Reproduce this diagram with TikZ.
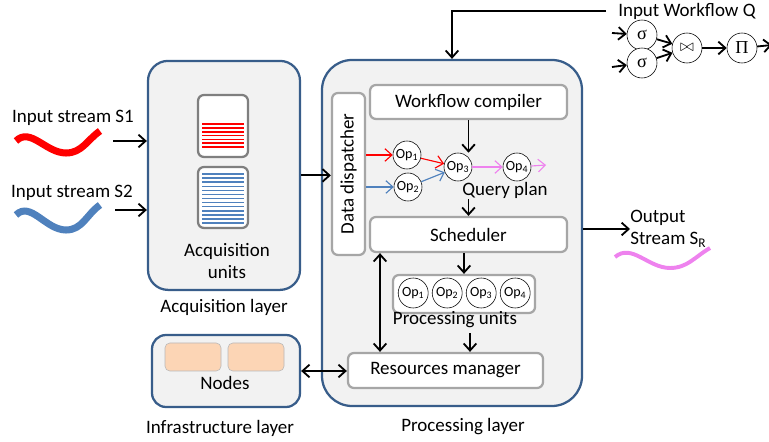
\documentclass[tikz,border=0pt]{standalone}
\usepackage{fontspec}
\setmainfont{Carlito}
\newfontfamily\symfont{Liberation Serif}
\usetikzlibrary{arrows.meta}
\definecolor{layerblue}{RGB}{56,93,138}
\definecolor{layerfill}{RGB}{242,242,242}
\definecolor{boxgray}{RGB}{166,166,166}
\definecolor{bufgray}{RGB}{127,127,127}
\definecolor{streamred}{RGB}{255,0,0}
\definecolor{streamblue}{RGB}{79,129,189}
\definecolor{streampink}{RGB}{238,130,238}
\definecolor{nodepeach}{RGB}{252,213,181}

\begin{document}
\begin{tikzpicture}[
    font=\fontsize{13.5}{15.5}\selectfont,
    layer/.style={draw=layerblue, fill=layerfill, line width=1.6pt},
    unit/.style={draw=boxgray, fill=white, line width=1.6pt, rounded corners=0.15cm},
    opnode/.style={circle, draw, thin, fill=white, inner sep=0pt, minimum size=0.7cm, font=\fontsize{10}{11}\selectfont},
    relnode/.style={circle, draw, thin, fill=white, inner sep=0pt, minimum size=0.75cm, font=\fontsize{13}{14}\selectfont},
    arr/.style={-{Straight Barb[length=5pt,width=9pt]}, line width=1.3pt},
    darr/.style={{Straight Barb[length=5pt,width=9pt]}-{Straight Barb[length=5pt,width=9pt]}, line width=1.3pt},
    wave/.style={line width=5pt}
]
    \useasboundingbox (0,0) rectangle (19.225,11.025);

    \node (s1txt) at (1.825,8.075) {Input stream S1};
    \draw[wave, streamred] (0.4,7.5) to[out=45,in=180] (1.65,7.2) to[out=0,in=215] (2.5,7.75);
    \coordinate (s1a) at (2.825,7.5);

    \node (s2txt) at (1.8,6.2) {Input stream S2};
    \draw[wave, streamblue] (0.4,5.65) to[out=45,in=180] (1.65,5.275) to[out=0,in=215] (2.5,5.9);
    \coordinate (s2a) at (2.875,5.775);

    \node[layer, rounded corners=0.5cm, minimum width=3.8cm, minimum height=5.725cm] (acq) at (5.6,6.64) {};
    \node[unit, draw=bufgray, minimum width=1.25cm, minimum height=1.55cm] (buf1) at (5.575,7.875) {};
    \foreach \i in {0,...,6}
        \draw[streamred, line width=1.1pt] (5.05,{7.35+0.095*\i}) -- (6.1,{7.35+0.095*\i});
    \node[unit, draw=bufgray, minimum width=1.25cm, minimum height=1.525cm] (buf2) at (5.575,6.0875) {};
    \foreach \i in {0,...,12}
        \draw[streamblue, line width=1.1pt] (5.05,{5.45+0.102*\i}) -- (6.1,{5.45+0.102*\i});
    \node[align=center] (acqtxt) at (5.675,4.5) {Acquisition\\units};
    \node (acqlbl) at (5.6,3.35) {Acquisition layer};

    \draw[arr] (s1a) -- (s1a -| acq.west);
    \draw[arr] (s2a) -- (s2a -| acq.west);

    \node[layer, rounded corners=0.35cm, minimum width=3.7cm, minimum height=1.8cm] (infra) at (5.65,1.75) {};
    \node[draw=boxgray!80, fill=nodepeach, rounded corners=0.12cm, minimum width=1.4cm, minimum height=0.7cm] (node1) at (4.825,2.1) {};
    \node[draw=boxgray!80, fill=nodepeach, rounded corners=0.12cm, minimum width=1.4cm, minimum height=0.7cm] (node2) at (6.4,2.1) {};
    \node (nodestxt) at (5.625,1.45) {Nodes};
    \node (infralbl) at (5.5,0.325) {Infrastructure layer};

    \node[layer, rounded corners=0.75cm, minimum width=6.5cm, minimum height=8.65cm] (proc) at (11.3,5.2) {};
    \node (proclbl) at (11.575,0.35) {Processing layer};

    \node[unit, minimum width=0.825cm, minimum height=4.05cm] (disp) at (8.7125,6.675) {};
    \node[rotate=90] (disptxt) at (disp) {Data dispatcher};
    \node[unit, minimum width=4.925cm, minimum height=0.85cm] (compiler) at (11.7125,8.475) {Workflow compiler};
    \node[unit, minimum width=4.925cm, minimum height=0.875cm] (sched) at (11.7125,5.1625) {Scheduler};
    \node[unit, minimum width=3.55cm, minimum height=0.95cm] (punits) at (11.6,3.675) {};
    \node[unit, minimum width=4.875cm, minimum height=0.875cm] (resman) at (11.1375,1.7625) {Resources manager};

    \node[opnode] (op1) at (10.175,7.15) {Op\textsubscript{1}};
    \node[opnode] (op2) at (10.2,6.35) {Op\textsubscript{2}};
    \node[opnode] (op3) at (11.45,6.85) {Op\textsubscript{3}};
    \node[opnode] (op4) at (12.925,6.85) {Op\textsubscript{4}};
    \coordinate (qout) at (13.65,6.9);
    \node (qplan) at (12.625,6.275) {Query plan};

    \foreach \i/\x in {1/10.33,2/11.18,3/12.03,4/12.88}
        \node[opnode, minimum size=0.75cm] (pu\i) at (\x,3.7) {Op\textsubscript{\i}};
    \node (putxt) at (11.375,3.025) {Processing units};

    \draw[arr] (acq.east) -- (acq.east -| disp.west);
    \draw[arr, line width=0.8pt, streamred] (op1 -| disp.east) -- (op1);
    \draw[arr, line width=0.8pt, streamred] (op1) -- (op3);
    \draw[arr, line width=0.8pt, streamblue] (op2 -| disp.east) -- (op2);
    \draw[arr, line width=0.8pt, streamblue] (op2) -- (op3);
    \draw[arr, line width=0.8pt, streampink] (op3) -- (op4);
    \draw[arr, line width=0.8pt, streampink] (op4) -- (qout);

    \coordinate (rmx) at (9.5,0);
    \coordinate (rmin) at (11.75,0);
    \draw[arr] (compiler.south) -- (compiler.south |- op3.north);
    \draw[arr] ([yshift=0.1cm]qplan.south -| compiler.south) -- (sched.north -| compiler.south);
    \draw[arr] (punits.north |- sched.south) -- (punits.north);
    \draw[arr] (putxt.south -| rmin) -- (resman.north -| rmin);
    \draw[darr] (sched.south -| rmx) -- (resman.north -| rmx);
    \draw[darr] (infra.east) -- (infra.east -| resman.west);

    \node[anchor=west, inner sep=0pt] (wq) at (15.45,10.75) {Input Workflow Q};
    \draw[arr] ([xshift=-0.3cm]wq.west) -| (proc.north);
    \node[relnode] (sig1) at (16.05,10.15) {\symfont σ};
    \node[relnode] (sig2) at (16.05,9.45) {\symfont σ};
    \node[relnode] (join) at (17.175,9.825) {$\bowtie$};
    \node[relnode] (proj) at (18.55,9.825) {\symfont Π};
    \coordinate (in1) at (15.3,10.2);
    \coordinate (in2) at (15.3,9.35);
    \coordinate (wout) at (19.3,9.9);
    \draw[arr] (in1) -- (sig1);
    \draw[arr] (in2) -- (sig2);
    \draw[arr] (sig1) -- (join);
    \draw[arr] (sig2) -- (join);
    \draw[arr] (join) -- (proj);
    \draw[arr] (proj) -- (wout);

    \node[anchor=west, align=left, inner sep=0pt] (outtxt) at (15.75,5.3) {Output\\Stream S\textsubscript{R}};
    \draw[arr] (outtxt.west -| proc.east) -- (outtxt.west);
    \draw[streampink, line width=2.8pt] (15.375,4.6) to[out=40,in=180] (16.75,4.325) to[out=0,in=210] (17.75,4.825);
\end{tikzpicture}
\end{document}
